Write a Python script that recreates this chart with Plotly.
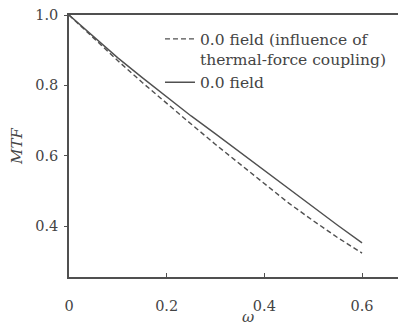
import plotly.graph_objects as go

omega = [0, 0.05, 0.1, 0.15, 0.2, 0.25, 0.3, 0.35, 0.4, 0.45, 0.5, 0.55, 0.6]
mtf_solid = [1.0, 0.938, 0.878, 0.822, 0.767, 0.713, 0.662, 0.61, 0.558, 0.505, 0.452, 0.402, 0.352]
mtf_dashed = [1.0, 0.935, 0.870, 0.808, 0.748, 0.69, 0.632, 0.577, 0.52, 0.465, 0.415, 0.367, 0.323]
name_dashed = "0.0 field (influence of<br>thermal-force coupling)"
name_solid = "0.0 field"
x_title = "<i>ω</i>"
y_title = "<i>MTF</i>"
x_ticks = [0, 0.2, 0.4, 0.6]
x_tick_text = ["0", "0.2", "0.4", "0.6"]
y_ticks = [0.4, 0.6, 0.8, 1.0]
y_tick_text = ["0.4", "0.6", "0.8", "1.0"]

font = "DejaVu Serif, serif"
grey = "#505050"

fig = go.Figure()
fig.add_trace(go.Scatter(x=omega, y=mtf_dashed, mode="lines", name=name_dashed,
                         line=dict(color=grey, width=1.4, dash="5px,3px")))
fig.add_trace(go.Scatter(x=omega, y=mtf_solid, mode="lines", name=name_solid,
                         line=dict(color=grey, width=1.4)))

fig.add_annotation(text=x_title, xref="paper", yref="paper", x=0.53, y=0,
                   xanchor="center", yanchor="middle", yshift=-40,
                   showarrow=False, font=dict(size=15, color="#444444"))

fig.update_layout(
    width=406, height=326,
    margin=dict(l=61, r=8, t=7, b=57),
    paper_bgcolor="white", plot_bgcolor="white",
    font=dict(family=font, size=14.5, color="#444444"),
    showlegend=True,
    legend=dict(x=0.27, y=0.972, xanchor="left", yanchor="top",
                bgcolor="rgba(0,0,0,0)", font=dict(size=15.5, color="#444444"),
                valign="top", tracegroupgap=0, itemwidth=30),
    xaxis=dict(range=[0, 0.69], tickvals=x_ticks, ticktext=x_tick_text,
               showgrid=False, zeroline=False, showline=True, linecolor=grey,
               linewidth=1.5, mirror=True, ticks="inside", ticklen=4,
               tickcolor=grey, automargin=False, ticklabelstandoff=15),
    yaxis=dict(range=[0.255, 1.0], tickvals=y_ticks, ticktext=y_tick_text,
               showgrid=False, zeroline=False, showline=True, linecolor=grey,
               linewidth=1.5, ticks="outside", ticklen=3, tickcolor=grey,
               automargin=False, ticklabelstandoff=3, ticklabeloverflow="allow",
               title=dict(text=y_title, font=dict(size=15), standoff=14)),
)

fig.write_html("out.html")
